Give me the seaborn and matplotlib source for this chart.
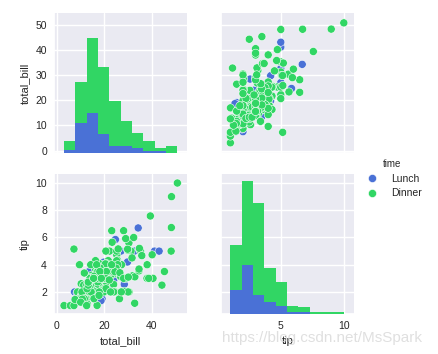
import numpy as np
import pandas as pd
import matplotlib
matplotlib.use("Agg")
import matplotlib.pyplot as plt
import seaborn as sns

# tips data, split by meal time
lunch_bill = [27.2, 22.76, 17.29, 19.44, 16.66, 10.07, 32.68, 15.98, 34.83, 13.03, 18.28, 24.71, 21.16,
              10.65, 12.43, 24.08, 11.69, 13.42, 14.26, 15.95, 12.48, 29.8, 8.52, 14.52, 11.38, 22.82,
              19.08, 20.27, 11.17, 12.26, 18.26, 8.51, 10.33, 14.15, 16.0, 13.16, 17.47, 34.3, 41.19,
              27.05, 16.43, 8.35, 18.64, 11.87, 9.78, 7.51,
              19.81, 28.44, 15.48, 16.58, 7.56, 10.34, 43.11, 13.0, 13.51, 18.71, 12.74, 13.0, 16.4,
              20.53, 16.47,
              12.16, 13.42, 8.58, 15.98, 13.42, 16.27, 10.09]
lunch_tip = [4.0, 3.0, 2.71, 3.0, 3.4, 1.83, 5.0, 2.03, 5.17, 2.0, 4.0, 5.85, 3.0,
             1.5, 1.8, 2.92, 2.31, 1.68, 2.5, 2.0, 2.52, 4.2, 1.48, 2.0, 2.0, 2.18, 1.5, 2.83, 1.5,
             2.0, 3.25, 1.25, 2.0, 2.0, 2.0, 2.75, 3.5, 6.7, 5.0, 5.0, 2.3, 1.5, 1.36, 1.63, 1.73, 2.0,
             4.19, 2.56, 2.02, 4.0, 1.44, 2.0, 5.0, 2.0, 2.0, 4.0, 2.01, 2.0, 2.5, 4.0, 3.23,
             2.2, 3.48, 1.92, 3.0, 1.58, 2.5, 2.0]

dinner_bill = [16.99, 10.34, 21.01, 23.68, 24.59, 25.29, 8.77, 26.88, 15.04, 14.78, 10.27, 35.26, 15.42,
               18.43, 14.83, 21.58, 10.33, 16.29, 16.97, 20.65, 17.92, 20.29, 15.77, 39.42, 19.82, 17.81,
               13.37, 12.69, 21.7, 19.65, 9.55, 18.35, 15.06, 20.69, 17.78, 24.06, 16.31, 16.93, 18.69,
               31.27, 16.04, 17.46, 13.94, 9.68, 30.4, 18.29, 22.23, 32.4, 28.55, 18.04, 12.54, 10.29,
               34.81, 9.94, 25.56, 19.49, 38.01, 26.41, 11.24, 48.27, 20.29, 13.81, 11.02, 18.29, 17.59,
               20.08, 16.45, 3.07, 20.23, 15.01, 12.02, 17.07, 26.86, 25.28, 14.73, 10.51, 17.92,
               28.97, 22.49, 5.75, 16.32, 22.75, 40.17, 27.28, 12.03, 21.01, 12.46, 11.35, 15.38, 44.3,
               22.42, 20.92, 15.36, 20.49, 25.21, 18.24, 14.31, 14.0, 7.25, 38.07, 23.95, 25.71, 17.31,
               29.93,
               14.07, 13.13, 17.26, 24.55, 19.77, 29.85, 48.17, 25.0, 13.39, 16.49, 21.5, 12.66, 16.21,
               13.81, 17.51, 24.52, 20.76, 31.71, 10.59, 10.63, 50.81, 15.81, 7.25, 31.85, 16.82, 32.9,
               17.89, 14.48, 9.6, 34.63, 34.65, 23.33, 45.35, 23.17, 40.55, 20.69, 20.9, 30.46, 18.15,
               23.1, 15.69,
               26.59, 38.73, 24.27, 12.76, 30.06, 25.89, 48.33, 13.27, 28.17, 12.9, 28.15, 11.59, 7.74,
               30.14,
               20.45, 13.28, 22.12, 24.01, 15.69, 11.61, 10.77, 15.53, 10.07, 12.6, 32.83, 35.83, 29.03,
               27.18, 22.67, 17.82, 18.78]
dinner_tip = [1.01, 1.66, 3.5, 3.31, 3.61, 4.71, 2.0, 3.12, 1.96, 3.23, 1.71, 5.0, 1.57, 3.0, 3.02, 3.92,
              1.67, 3.71, 3.5, 3.35, 4.08, 2.75, 2.23, 7.58, 3.18, 2.34, 2.0, 2.0, 4.3, 3.0, 1.45, 2.5,
              3.0, 2.45, 3.27, 3.6, 2.0, 3.07, 2.31, 5.0, 2.24, 2.54, 3.06, 1.32, 5.6, 3.0, 5.0, 6.0,
              2.05, 3.0, 2.5, 2.6, 5.2, 1.56, 4.34, 3.51, 3.0, 1.5, 1.76, 6.73, 3.21, 2.0, 1.98, 3.76,
              2.64, 3.15, 2.47, 1.0, 2.01, 2.09, 1.97, 3.0, 3.14, 5.0, 2.2, 1.25, 3.08,
              3.0, 3.5, 1.0, 4.3, 3.25, 4.73, 4.0, 1.5, 3.0, 1.5, 2.5, 3.0, 2.5, 3.48, 4.08, 1.64, 4.06,
              4.29, 3.76, 4.0, 3.0, 1.0, 4.0, 2.55, 4.0, 3.5, 5.07,
              2.5, 2.0, 2.74, 2.0, 2.0, 5.14, 5.0, 3.75, 2.61, 2.0, 3.5, 2.5, 2.0, 2.0, 3.0, 3.48, 2.24,
              4.5, 1.61, 2.0, 10.0, 3.16, 5.15, 3.18, 4.0, 3.11, 2.0, 2.0, 4.0, 3.55, 3.68, 5.65, 3.5,
              6.5, 3.0, 5.0, 3.5, 2.0, 3.5, 4.0, 1.5,
              3.41, 3.0, 2.03, 2.23, 2.0, 5.16, 9.0, 2.5, 6.5, 1.1, 3.0, 1.5, 1.44, 3.09,
              3.0, 2.72, 2.88, 2.0, 3.0, 3.39, 1.47, 3.0, 1.25, 1.0, 1.17, 4.67, 5.92, 2.0, 2.0, 1.75,
              3.0]

times = ["Lunch", "Dinner"]
colors = ["#4a71d6", "#31d664"]
bill_ticks = [0, 10, 20, 30, 40, 50]
tip_ticks = [2, 4, 6, 8, 10]

# lunch rows first so dinner points sit on top
tips = pd.DataFrame({
    "total_bill": lunch_bill + dinner_bill,
    "tip": lunch_tip + dinner_tip,
    "time": ["Lunch"] * len(lunch_bill) + ["Dinner"] * len(dinner_bill),
})
pal = dict(zip(times, colors))


def stacked_hist(x, hue=None, **kws):
    # lunch at the bottom of the stack, like the old barstacked hist
    sns.histplot(x=x, hue=tips.loc[x.index, "time"], hue_order=times[::-1], palette=pal,
                 multiple="stack", bins=10, element="bars", linewidth=0, alpha=1,
                 legend=False, ax=plt.gca())


sns.set_theme(style="darkgrid", rc={
    "xtick.labelsize": 7.5, "ytick.labelsize": 7.5,
    "axes.labelsize": 8, "legend.fontsize": 7.5,
    "xtick.major.size": 3, "ytick.major.size": 3,
    "xtick.major.pad": 2, "ytick.major.pad": 2,
})
plt.rcParams["font.family"] = ["Liberation Sans", "DejaVu Sans"]

g = sns.PairGrid(tips, hue="time", hue_order=times, palette=colors, height=1.6)
g.map_offdiag(sns.scatterplot, s=34, edgecolor="white", linewidth=0.4)
g.map_diag(stacked_hist)
g.add_legend(title="time")

g.axes[0, 0].set_ylim(-1.0, 54.7)
g.axes[0, 0].set_yticks(bill_ticks)
g.axes[1, 0].set_xlim(-1.2, 54.8)
g.axes[1, 0].set_xticks([0, 20, 40])
g.axes[1, 0].set_ylim(0.38, 10.66)
g.axes[1, 0].set_yticks(tip_ticks)
g.axes[1, 1].set_xlim(0.25, 10.8)
g.axes[1, 1].set_xticks([5, 10])

fig = g.figure
fig.set_size_inches(4.38, 3.54)
fig.subplots_adjust(left=0.123, right=0.808, top=0.963, bottom=0.113, wspace=0.256, hspace=0.15)
sns.move_legend(g, "center left", bbox_to_anchor=(0.805, 0.495), frameon=False, title="time",
                title_fontsize=7, alignment="center", labelspacing=0.45)

fig.text(0.507, 0.035, "https://blog.csdn.net/MsSpark", color="#d8d8d8", fontsize=11,
         alpha=0.8, zorder=0)

fig.savefig("out.png", dpi=100)
